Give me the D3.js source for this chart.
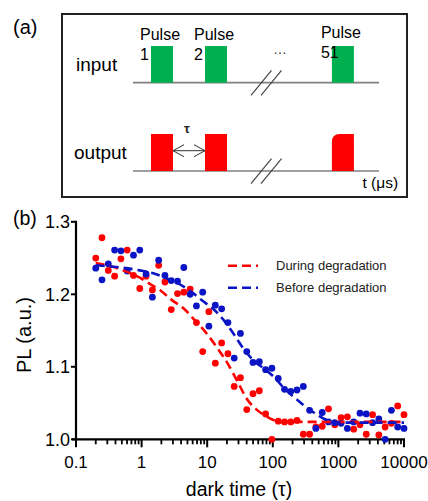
<!DOCTYPE html>
<html>
<head>
<meta charset="utf-8">
<script src="https://cdn.jsdelivr.net/npm/d3@7"></script>
<style>
  html, body { margin: 0; padding: 0; background: #fff; }
  svg { display: block; font-family: "Liberation Sans", Arial, sans-serif; }
</style>
</head>
<body>
<svg id="fig" width="428" height="501"></svg>
<script>
// Dark time between pulses (same sampling for both series)
const darkTime = [0.2, 0.249, 0.311, 0.388, 0.484, 0.603, 0.752, 0.938, 1.17, 1.46,
  1.82, 2.27, 2.83, 3.53, 4.40, 5.49, 6.85, 8.54, 10.6, 13.3,
  16.6, 20.7, 25.8, 32.1, 40.1, 49.9, 62.3, 77.7, 96.9, 121,
  151, 188, 234, 292, 364, 454, 567, 707, 881, 1099,
  1371, 1710, 2132, 2659, 3316, 4135, 5157, 6431, 8020, 10000];

const plDuring = [1.250, 1.278, 1.233, 1.225, 1.249, 1.261, 1.226, 1.208, 1.225, 1.206,
  1.240, 1.217, 1.179, 1.201, 1.203, 1.207, 1.161, 1.121, 1.176, 1.105,
  1.133, 1.118, 1.073, 1.085, 1.041, 1.063, 1.067, 1.035, 1.000, 1.025,
  1.024, 1.024, 1.026, 1.007, 1.007, 1.017, 1.018, 1.042, 1.020, 1.030,
  1.031, 1.014, 1.020, 1.007, 1.034, 1.006, 1.017, 1.022, 1.046, 1.034];

const plBefore = [1.236, 1.220, 1.242, 1.261, 1.260, 1.232, 1.254, 1.261, 1.228, 1.196,
  1.247, 1.226, 1.219, 1.218, 1.237, 1.200, 1.184, 1.203, 1.156, 1.185,
  1.180, 1.161, 1.112, 1.146, 1.121, 1.106, 1.107, 1.096, 1.098, 1.084,
  1.069, 1.066, 1.068, 1.073, 1.040, 1.015, 1.037, 1.024, 1.023, 1.022,
  1.015, 1.024, 1.036, 1.035, 1.023, 1.028, 1.000, 1.040, 1.017, 1.015];

// Fitted curves
const fitDuringTau = [0.2, 0.33, 0.56, 0.89, 1.3, 1.9, 2.9, 4.3, 6.5, 9.8, 14, 21, 30, 40, 55, 75, 100, 130, 10000];
const fitDuringPL  = [1.243, 1.239, 1.232, 1.224, 1.215, 1.206, 1.192, 1.181, 1.164, 1.146, 1.127, 1.103, 1.077, 1.056, 1.042, 1.033, 1.027, 1.024, 1.024];

const fitBeforeTau = [0.2, 0.37, 0.94, 1.5, 2.4, 3.6, 5.8, 8.2, 13, 18, 25, 37, 55, 75, 107, 150, 240, 306, 390, 470, 610, 820, 1200, 10000];
const fitBeforePL  = [1.240, 1.238, 1.233, 1.229, 1.222, 1.215, 1.203, 1.192, 1.178, 1.164, 1.146, 1.123, 1.106, 1.097, 1.085, 1.070, 1.054, 1.046, 1.039, 1.034, 1.028, 1.024, 1.023, 1.023];

const xTickValues = [0.1, 1, 10, 100, 1000, 10000];
const xTickLabels = ["0.1", "1", "10", "100", "1000", "10000"];
const yTickValues = [1.0, 1.1, 1.2, 1.3];
const yTickLabels = ["1.0", "1.1", "1.2", "1.3"];

const seriesNames = ["During degradation", "Before degradation"];
const pulseLabels = ["1", "2", "51"];

const RED = "#ff0000", BLUE = "#0a14c4", GREEN = "#00b050";

const svg = d3.select("#fig");

// ---------- Panel (a): pulse sequence schematic ----------
svg.append("text").attr("x", 13).attr("y", 34).attr("font-size", 20).text("(a)");
svg.append("rect").attr("x", 62).attr("y", 14).attr("width", 345).attr("height", 183)
  .attr("fill", "none").attr("stroke", "#222").attr("stroke-width", 2);

// schematic time axis: slot index -> left edge of each pulse
const slot = d3.scaleLinear().domain([0, 1]).range([151, 205]);
const pulseSlots = [0, 1, 3.35];
const pulseW = 22;
const inY = 82.7, outY = 171, inTop = 46, outTop = 134;

const schem = svg.append("g");
[inY, outY].forEach(y => {
  schem.append("line").attr("x1", 133).attr("x2", 379).attr("y1", y).attr("y2", y)
    .attr("stroke", "#808080").attr("stroke-width", 1.7);
});
schem.append("text").attr("x", 76).attr("y", 71).attr("font-size", 19).text("input");
schem.append("text").attr("x", 74).attr("y", 159).attr("font-size", 19).text("output");

pulseSlots.forEach((s, i) => {
  const x0 = slot(s);
  schem.append("rect").attr("x", x0).attr("y", inTop).attr("width", pulseW).attr("height", inY - inTop)
    .attr("fill", GREEN);
  schem.append("text").attr("x", x0 - 11).attr("y", i === 2 ? 37.5 : 39.5).attr("font-size", 16).text("Pulse");
  schem.append("text").attr("x", x0 - 11).attr("y", i === 2 ? 57.5 : 60).attr("font-size", 16).text(pulseLabels[i]);
  if (i < 2) {
    schem.append("rect").attr("x", x0).attr("y", outTop).attr("width", pulseW).attr("height", outY - outTop)
      .attr("fill", RED);
  } else {
    const r = 8;
    schem.append("path").attr("fill", RED)
      .attr("d", `M${x0},${outY} L${x0},${outTop + r} Q${x0},${outTop} ${x0 + r},${outTop} L${x0 + pulseW},${outTop} L${x0 + pulseW},${outY} Z`);
  }
});

schem.append("text").attr("x", 280).attr("y", 54).attr("text-anchor", "middle")
  .attr("font-size", 14).attr("fill", "#333").text("…");

// axis break marks
[inY, outY].forEach(y => {
  [0, 10].forEach(dx => {
    schem.append("line").attr("x1", 251 + dx).attr("y1", y + 12.7).attr("x2", 271.5 + dx).attr("y2", y - 12.3)
      .attr("stroke", "#444").attr("stroke-width", 1.2);
  });
});

// dark time arrow between output pulses
const aL = slot(0) + pulseW, aR = slot(1), aY = 150.7;
schem.append("line").attr("x1", aL).attr("x2", aR).attr("y1", aY).attr("y2", aY)
  .attr("stroke", "#333").attr("stroke-width", 1);
schem.append("path").attr("fill", "none").attr("stroke", "#333").attr("stroke-width", 1)
  .attr("d", `M${aL + 11},${aY - 6} L${aL},${aY} L${aL + 11},${aY + 6} M${aR - 11},${aY - 6} L${aR},${aY} L${aR - 11},${aY + 6}`);
schem.append("text").attr("x", (aL + aR) / 2 - 2).attr("y", 133).attr("text-anchor", "middle")
  .attr("font-size", 13).attr("font-weight", "bold").attr("fill", "#222").text("τ");
schem.append("text").attr("x", 362.5).attr("y", 188.3).attr("font-size", 15.5).text("t (μs)");

// ---------- Panel (b): PL vs dark time ----------
svg.append("text").attr("x", 13).attr("y", 225).attr("font-size", 19.5).text("(b)");

const x = d3.scaleLog().domain([0.1, 10000]).range([76, 404]);
const y = d3.scaleLinear().domain([1.0, 1.3]).range([439.3, 221.8]);

const gAx = svg.append("g");
// x axis: major and minor ticks below the line
const minor = [];
xTickValues.slice(0, -1).forEach(v => { for (let k = 2; k <= 9; k++) minor.push(v * k); });
gAx.selectAll(".xminor").data(minor).join("line")
  .attr("x1", d => x(d)).attr("x2", d => x(d)).attr("y1", y(1.0)).attr("y2", y(1.0) + 5)
  .attr("stroke", "#000").attr("stroke-width", 1.8);
gAx.selectAll(".xmajor").data(xTickValues).join("line")
  .attr("x1", d => x(d)).attr("x2", d => x(d)).attr("y1", y(1.0)).attr("y2", y(1.0) + 8)
  .attr("stroke", "#000").attr("stroke-width", 2);
gAx.selectAll(".xlab").data(xTickValues).join("text")
  .attr("x", d => x(d)).attr("y", 468).attr("text-anchor", "middle").attr("font-size", 17)
  .text((d, i) => xTickLabels[i]);
gAx.append("line").attr("x1", x(0.1) - 4).attr("x2", x(10000) + 1).attr("y1", y(1.0)).attr("y2", y(1.0))
  .attr("stroke", "#000").attr("stroke-width", 2.2);

// y axis
gAx.append("line").attr("x1", x(0.1)).attr("x2", x(0.1)).attr("y1", y(1.3) - 1).attr("y2", y(1.0))
  .attr("stroke", "#000").attr("stroke-width", 2.2);
gAx.selectAll(".ytick").data(yTickValues).join("line")
  .attr("x1", x(0.1) - 5).attr("x2", x(0.1)).attr("y1", d => y(d)).attr("y2", d => y(d))
  .attr("stroke", "#000").attr("stroke-width", 2);
gAx.selectAll(".ylab").data(yTickValues).join("text")
  .attr("x", 70).attr("y", d => y(d)).attr("dy", "0.36em").attr("text-anchor", "end").attr("font-size", 18)
  .text((d, i) => yTickLabels[i]);

svg.append("text").attr("transform", "translate(31,335) rotate(-90)").attr("text-anchor", "middle")
  .attr("font-size", 20).text("PL (a.u.)");
svg.append("text").attr("x", 239).attr("y", 496).attr("text-anchor", "middle")
  .attr("font-size", 19.5).text("dark time (τ)");

// data points
const during = darkTime.map((t, i) => ({ t, v: plDuring[i] }));
const before = darkTime.map((t, i) => ({ t, v: plBefore[i] }));

svg.append("g").selectAll("circle").data(during).join("circle")
  .attr("cx", d => x(d.t)).attr("cy", d => y(d.v)).attr("r", 3.4).attr("fill", RED);
svg.append("g").selectAll("circle").data(before).join("circle")
  .attr("cx", d => x(d.t)).attr("cy", d => y(d.v)).attr("r", 3.4).attr("fill", BLUE);

// fitted curves
const line = d3.line().x(d => x(d[0])).y(d => y(d[1])).curve(d3.curveMonotoneX);
svg.append("path").datum(fitDuringTau.map((t, i) => [t, fitDuringPL[i]]))
  .attr("d", line).attr("fill", "none").attr("stroke", RED).attr("stroke-width", 2.6)
  .attr("stroke-dasharray", "9,5");
svg.append("path").datum(fitBeforeTau.map((t, i) => [t, fitBeforePL[i]]))
  .attr("d", line).attr("fill", "none").attr("stroke", BLUE).attr("stroke-width", 2.6)
  .attr("stroke-dasharray", "9,5");

// legend
const legend = svg.append("g");
[RED, BLUE].forEach((c, i) => {
  const ly = 265.7 + i * 22;
  legend.append("line").attr("x1", 228).attr("x2", 258).attr("y1", ly).attr("y2", ly)
    .attr("stroke", c).attr("stroke-width", 2.6).attr("stroke-dasharray", "9,5");
  legend.append("text").attr("x", 276).attr("y", ly).attr("dy", "0.36em").attr("font-size", 13)
    .attr("fill", "#222").text(seriesNames[i]);
});
</script>
</body>
</html>
